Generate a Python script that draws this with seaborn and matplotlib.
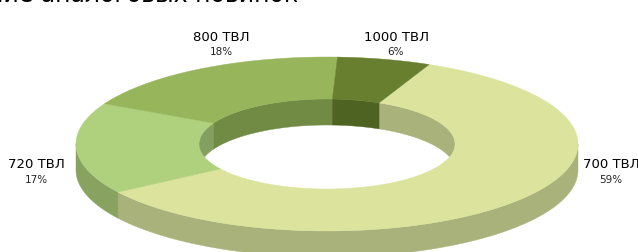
import numpy as np
import matplotlib
matplotlib.use("Agg")
import matplotlib.pyplot as plt
import seaborn as sns
from matplotlib.patches import Polygon

categories = ["700 ТВЛ", "720 ТВЛ", "800 ТВЛ", "1000 ТВЛ"]
shares = [59, 17, 18, 6]
pct_labels = ["59%", "17%", "18%", "6%"]
title = "Распределение аналоговых новинок"

top_colors = ["#DBE39C", "#AFD17D", "#97B55A", "#687F2F"]
side_colors = ["#A9B27B", "#87A35F", "#728C45", "#4F6422"]
inner_colors = ["#A9B27B", "#849F60", "#718B44", "#4E6322"]

sns.set_theme(style="white")
plt.rcParams['font.family'] = ['DejaVu Sans']

W, H = 638, 253
fig = plt.figure(figsize=(W / 100, H / 100), dpi=100)
ax = fig.add_axes([0, 0, 1, 1])
ax.set_xlim(0, W)
ax.set_ylim(H, 0)
ax.axis("off")

cx, cy = 327, 145
a_out, b_out = 251, 87
a_in, b_in = 128, 45
depth = 26
start = 66.0

def pt(a, b, t, dy=0):
    t = np.radians(t)
    return cx + a * np.cos(t), cy - b * np.sin(t) + dy

fr = np.array(shares, dtype=float) / sum(shares) * 360
cum = np.concatenate([[0], np.cumsum(fr)])
spans = [(start - cum[i + 1], start - cum[i]) for i in range(len(shares))]

def arc(a, b, t0, t1, dy=0, n=120):
    ts = np.linspace(t0, t1, n)
    xs, ys = pt(a, b, ts, dy)
    return np.column_stack([xs, ys])

def clip_range(t0, t1, lo, hi):
    out = []
    for k in (-720, -360, 0, 360):
        s, e = max(t0, lo + k), min(t1, hi + k)
        if e > s:
            out.append((s, e))
    return out

# inner walls (back half of hole)
for i, (t0, t1) in enumerate(spans):
    for s, e in clip_range(t0, t1, 0, 180):
        top = arc(a_in, b_in, s, e)
        bot = arc(a_in, b_in, e, s, depth)
        ax.add_patch(Polygon(np.vstack([top, bot]), closed=True,
                             facecolor=inner_colors[i], edgecolor=inner_colors[i], lw=0.3, zorder=1))
# outer side walls (front half)
for i, (t0, t1) in enumerate(spans):
    for s, e in clip_range(t0, t1, 180, 360):
        top = arc(a_out, b_out, s, e)
        bot = arc(a_out, b_out, e, s, depth)
        ax.add_patch(Polygon(np.vstack([top, bot]), closed=True,
                             facecolor=side_colors[i], edgecolor=side_colors[i], lw=0.3, zorder=2))
# top faces
for i, (t0, t1) in enumerate(spans):
    outer = arc(a_out, b_out, t0, t1)
    inner = arc(a_in, b_in, t1, t0)
    ax.add_patch(Polygon(np.vstack([outer, inner]), closed=True,
                         facecolor=top_colors[i], edgecolor=top_colors[i], lw=0.3, zorder=3))

label_pos = [(611, 165), (36, 165), (221, 37), (396, 37)]
for (x, y), c, p in zip(label_pos, categories, pct_labels):
    ax.text(x, y, c, ha="center", va="center", fontsize=9.5, color="black", zorder=5)
    ax.text(x, y + 15, p, ha="center", va="center", fontsize=7.5, color="#222222", zorder=5)

ax.text(298, 1.5, title, ha="right", va="baseline", fontsize=17, color="black", zorder=5)

fig.savefig("out.png", dpi=100, facecolor="white")
